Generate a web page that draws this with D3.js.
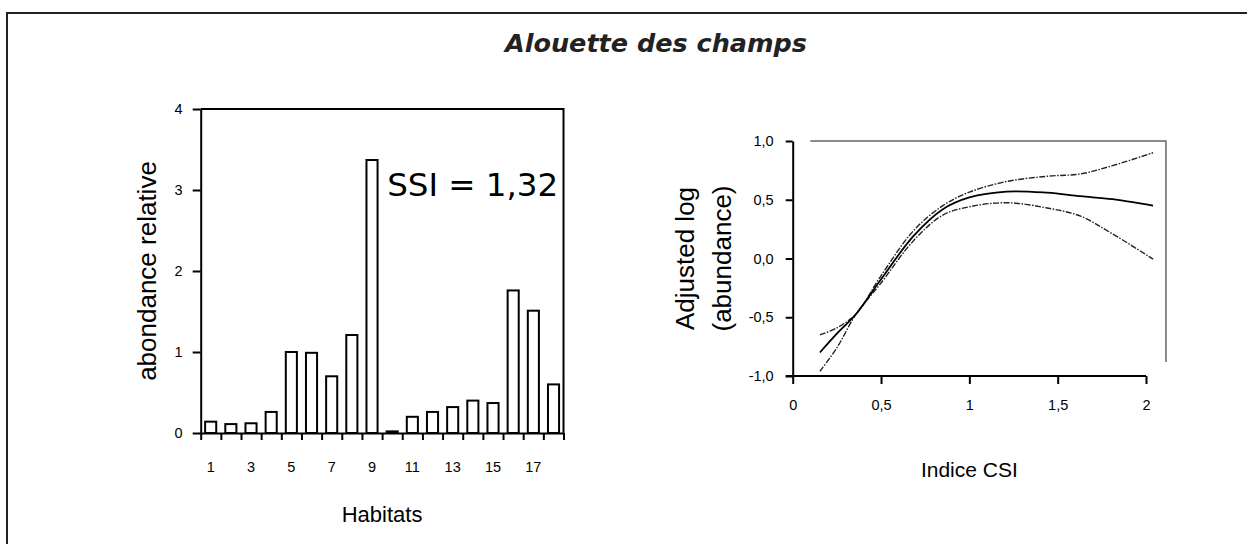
<!DOCTYPE html>
<html>
<head>
<meta charset="utf-8">
<script src="https://cdn.jsdelivr.net/npm/d3@7"></script>
<style>
  body { margin: 0; background: #fff; }
  .axis text { font-family: "Liberation Sans", Arial, sans-serif; font-size: 14.5px; fill: #000; }
  .axis path, .axis line { stroke: #000; stroke-width: 2; }
  .axis-label { font-family: "Liberation Sans", Arial, sans-serif; fill: #000; }
</style>
</head>
<body>
<div id="visualization"></div>
<script>
const width = 1247;
const height = 544;

// left chart data : relative abundance per habitat
const habitats = d3.range(1, 19);
const abundance = [0.14, 0.11, 0.12, 0.26, 1.00, 0.99, 0.70, 1.21, 3.37, 0.02,
                   0.20, 0.26, 0.32, 0.40, 0.37, 1.76, 1.51, 0.60];
const leftYTicks = [0, 1, 2, 3, 4];
const ssiLabel = 'SSI = 1,32';

// right chart data : smoothed response curve with confidence band
const csiX = [0.154, 0.25, 0.36, 0.494, 0.683, 0.85, 1.0, 1.21, 1.44, 1.63, 1.81, 2.04];
const fitY = [-0.80, -0.64, -0.47, -0.19, 0.19, 0.42, 0.52, 0.57, 0.56, 0.53, 0.505, 0.45];
const upperY = [-0.65, -0.59, -0.47, -0.16, 0.235, 0.45, 0.565, 0.655, 0.70, 0.72, 0.79, 0.90];
const lowerY = [-0.96, -0.76, -0.47, -0.22, 0.15, 0.37, 0.44, 0.475, 0.43, 0.36, 0.21, -0.005];
const rightXTicks = [0, 0.5, 1, 1.5, 2];
const rightYTicks = [-1, -0.5, 0, 0.5, 1];

const frCA = d3.formatLocale({ decimal: ',', thousands: ' ', grouping: [3], currency: ['', ''], minus: '-' });
const fmt1 = frCA.format('.1f');
const fmtX = d => String(d).replace('.', ',');

const svg = d3.select('#visualization')
  .append('svg')
  .attr('width', width)
  .attr('height', height);

// outer frame (only top and left are inside the picture)
svg.append('path')
  .attr('d', `M7,${height} L7,13 L${width},13`)
  .attr('fill', 'none')
  .attr('stroke', '#222')
  .attr('stroke-width', 2);

svg.append('text')
  .attr('x', 656)
  .attr('y', 52)
  .attr('text-anchor', 'middle')
  .style('font-family', '"DejaVu Sans", Verdana, sans-serif')
  .style('font-weight', 'bold')
  .style('font-style', 'italic')
  .style('font-size', '25.5px')
  .style('fill', '#222')
  .text('Alouette des champs');

// ---------- left chart ----------
const L = { left: 200.7, right: 563.5, top: 109, bottom: 433 };

const xBand = d3.scaleBand()
  .domain(habitats)
  .range([L.left, L.right])
  .paddingInner(0.45)
  .paddingOuter(0.22);

const xEdge = d3.scaleLinear()
  .domain([0, habitats.length])
  .range([L.left, L.right]);

const yL = d3.scaleLinear()
  .domain([0, 4])
  .range([L.bottom, L.top]);

const leftG = svg.append('g');

leftG.selectAll('.bar')
  .data(abundance)
  .enter()
  .append('rect')
  .attr('x', (d, i) => xBand(habitats[i]))
  .attr('y', d => yL(d))
  .attr('width', xBand.bandwidth())
  .attr('height', d => yL(0) - yL(d))
  .attr('fill', '#fff')
  .attr('stroke', '#000')
  .attr('stroke-width', 2);

// top and right border of the plot
leftG.append('path')
  .attr('d', `M${L.left},${yL(4)} L${L.right},${yL(4)} L${L.right},${yL(0)}`)
  .attr('fill', 'none')
  .attr('stroke', '#000')
  .attr('stroke-width', 2);

// tick marks sit between the bars
leftG.append('g')
  .classed('axis', true)
  .attr('transform', `translate(0, ${L.bottom})`)
  .call(d3.axisBottom(xEdge).tickValues(d3.range(habitats.length + 1)).tickFormat('').tickSize(7).tickSizeOuter(0));

// labels sit under the bars, odd ones only
leftG.append('g')
  .classed('axis', true)
  .attr('transform', `translate(0, ${L.bottom})`)
  .call(d3.axisBottom(xBand).tickValues(habitats.filter(d => d % 2 === 1)).tickSize(0).tickPadding(29))
  .call(g => g.select('.domain').remove());

leftG.append('g')
  .classed('axis', true)
  .attr('transform', `translate(${L.left}, 0)`)
  .call(d3.axisLeft(yL).tickValues(leftYTicks).tickFormat(d3.format('d')).tickSize(8).tickSizeOuter(0).tickPadding(10));

leftG.append('text')
  .classed('axis-label', true)
  .attr('transform', `translate(156, ${(L.top + L.bottom) / 2}) rotate(-90)`)
  .attr('text-anchor', 'middle')
  .style('font-size', '26px')
  .text('abondance relative');

leftG.append('text')
  .classed('axis-label', true)
  .attr('x', (L.left + L.right) / 2)
  .attr('y', 522)
  .attr('text-anchor', 'middle')
  .style('font-size', '22px')
  .text('Habitats');

leftG.append('text')
  .attr('x', xEdge(9.25))
  .attr('y', yL(2.92))
  .style('font-family', '"DejaVu Sans", Verdana, sans-serif')
  .style('font-size', '32.5px')
  .text(ssiLabel);

// ---------- right chart ----------
const R = { left: 792.7, right: 1146, top: 141, bottom: 376 };

const xR = d3.scaleLinear()
  .domain([0, 2])
  .range([R.left, R.right]);

const yR = d3.scaleLinear()
  .domain([-1, 1])
  .range([R.bottom, R.top]);

const rightG = svg.append('g');

// grey plot-area border (top and right)
rightG.append('path')
  .attr('d', `M${xR(0.1)},${yR(1)} L${xR(2.113)},${yR(1)} L${xR(2.113)},${yR(-0.88)}`)
  .attr('fill', 'none')
  .attr('stroke', '#666')
  .attr('stroke-width', 1.5);

rightG.append('g')
  .classed('axis', true)
  .attr('transform', `translate(0, ${R.bottom})`)
  .call(d3.axisBottom(xR).tickValues(rightXTicks).tickFormat(fmtX).tickSize(8).tickSizeOuter(0).tickPadding(16))
  .call(g => g.select('.domain').attr('d', `M${R.left - 7},0H${R.right}`));

rightG.append('g')
  .classed('axis', true)
  .attr('transform', `translate(${R.left}, 0)`)
  .call(d3.axisLeft(yR).tickValues(rightYTicks).tickFormat(fmt1).tickSize(7).tickSizeOuter(0).tickPadding(12));

const line = d3.line()
  .x(d => xR(d[0]))
  .y(d => yR(d[1]))
  .curve(d3.curveCatmullRom.alpha(0.5));

const zipWith = ys => csiX.map((x, i) => [x, ys[i]]);

rightG.append('path')
  .attr('d', line(zipWith(upperY)))
  .attr('fill', 'none')
  .attr('stroke', '#222')
  .attr('stroke-width', 1.4)
  .attr('stroke-dasharray', '6,1.5,1.5,1.5');

rightG.append('path')
  .attr('d', line(zipWith(lowerY)))
  .attr('fill', 'none')
  .attr('stroke', '#222')
  .attr('stroke-width', 1.4)
  .attr('stroke-dasharray', '6,1.5,1.5,1.5');

rightG.append('path')
  .attr('d', line(zipWith(fitY)))
  .attr('fill', 'none')
  .attr('stroke', '#000')
  .attr('stroke-width', 1.8);

rightG.append('text')
  .classed('axis-label', true)
  .attr('transform', `translate(694, ${(R.top + R.bottom) / 2}) rotate(-90)`)
  .attr('text-anchor', 'middle')
  .style('font-size', '26px')
  .text('Adjusted log');

rightG.append('text')
  .classed('axis-label', true)
  .attr('transform', `translate(731, ${(R.top + R.bottom) / 2}) rotate(-90)`)
  .attr('text-anchor', 'middle')
  .style('font-size', '26px')
  .text('(abundance)');

rightG.append('text')
  .classed('axis-label', true)
  .attr('x', (R.left + R.right) / 2)
  .attr('y', 477)
  .attr('text-anchor', 'middle')
  .style('font-size', '21px')
  .text('Indice CSI');
</script>
</body>
</html>
